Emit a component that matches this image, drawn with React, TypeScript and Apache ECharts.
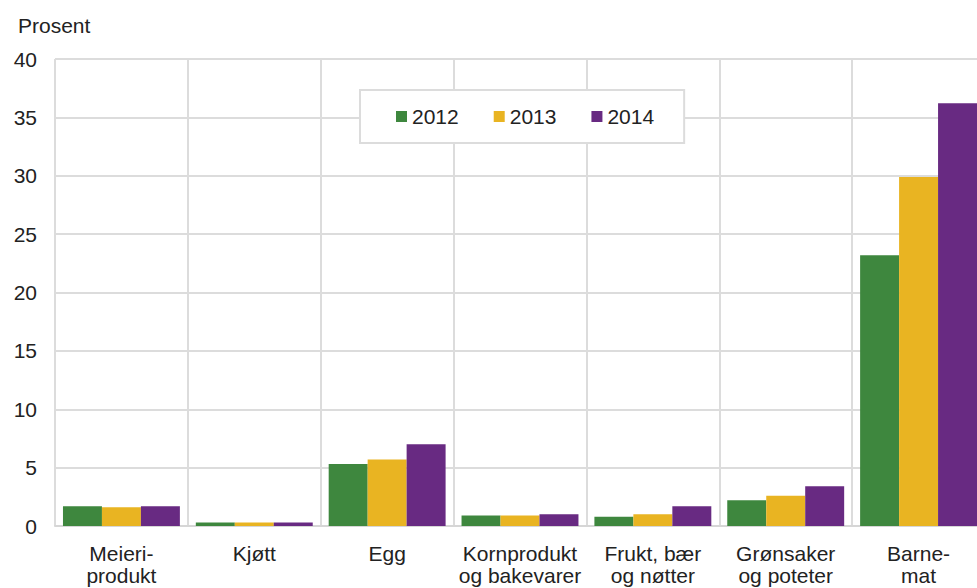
import React, { useEffect, useRef } from "react";
import * as echarts from "echarts";

const categories = [
  "Meieri-\nprodukt",
  "Kjøtt",
  "Egg",
  "Kornprodukt\nog bakevarer",
  "Frukt, bær\nog nøtter",
  "Grønsaker\nog poteter",
  "Barne-\nmat",
];
const seriesNames = ["2012", "2013", "2014"];
const values2012 = [1.7, 0.3, 5.3, 0.9, 0.8, 2.2, 23.2];
const values2013 = [1.6, 0.3, 5.7, 0.9, 1.0, 2.6, 29.9];
const values2014 = [1.7, 0.3, 7.0, 1.0, 1.7, 3.4, 36.2];
const colors = ["#3e873e", "#e9b422", "#682a82"];
const yAxisTitle = "Prosent";

export default function App() {
  const ref = useRef<HTMLDivElement>(null);
  useEffect(() => {
    if (!ref.current) return;
    const chart = echarts.init(ref.current, null, { renderer: "svg" });
    const font = "Liberation Sans, Arial, sans-serif";
    const data = [values2012, values2013, values2014];
    chart.setOption({
      animation: false,
      textStyle: { fontFamily: font },
      grid: {
        left: 55,
        right: -8,
        top: 59,
        bottom: 62,
        containLabel: false,
        outerBoundsMode: "none",
      },
      graphic: [
        {
          type: "text",
          left: 18,
          top: 15,
          style: { text: yAxisTitle, fontSize: 21, fill: "#222", fontFamily: font },
        },
      ],
      legend: {
        left: 360,
        top: 90,
        data: seriesNames,
        icon: "rect",
        itemWidth: 11,
        itemHeight: 11,
        itemGap: 35,
        padding: [16, 30, 16, 36],
        borderColor: "#dcdcdc",
        borderWidth: 2,
        backgroundColor: "#fff",
        textStyle: { fontSize: 21, color: "#222", fontFamily: font },
      },
      xAxis: {
        type: "category",
        data: categories,
        axisTick: { show: false },
        axisLine: { lineStyle: { color: "#d6d6d6", width: 2 } },
        splitLine: { show: true, interval: 0, lineStyle: { color: "#dcdcdc", width: 2 } },
        axisLabel: {
          interval: 0,
          fontSize: 21,
          lineHeight: 22,
          color: "#222",
          margin: 16,
          fontFamily: font,
        },
      },
      yAxis: {
        type: "value",
        min: 0,
        max: 40,
        interval: 5,
        axisLine: { show: false },
        axisTick: { show: false },
        splitLine: { lineStyle: { color: "#dcdcdc", width: 2 } },
        axisLabel: { fontSize: 21, color: "#222", margin: 18, fontFamily: font },
      },
      series: seriesNames.map((name, i) => ({
        name,
        type: "bar",
        data: data[i],
        barGap: "0%",
        barCategoryGap: "12%",
        itemStyle: { color: colors[i] },
      })),
    });
    return () => chart.dispose();
  }, []);
  return <div ref={ref} style={{ width: 977, height: 588, position: "absolute", left: 0, top: 0 }} />;
}
